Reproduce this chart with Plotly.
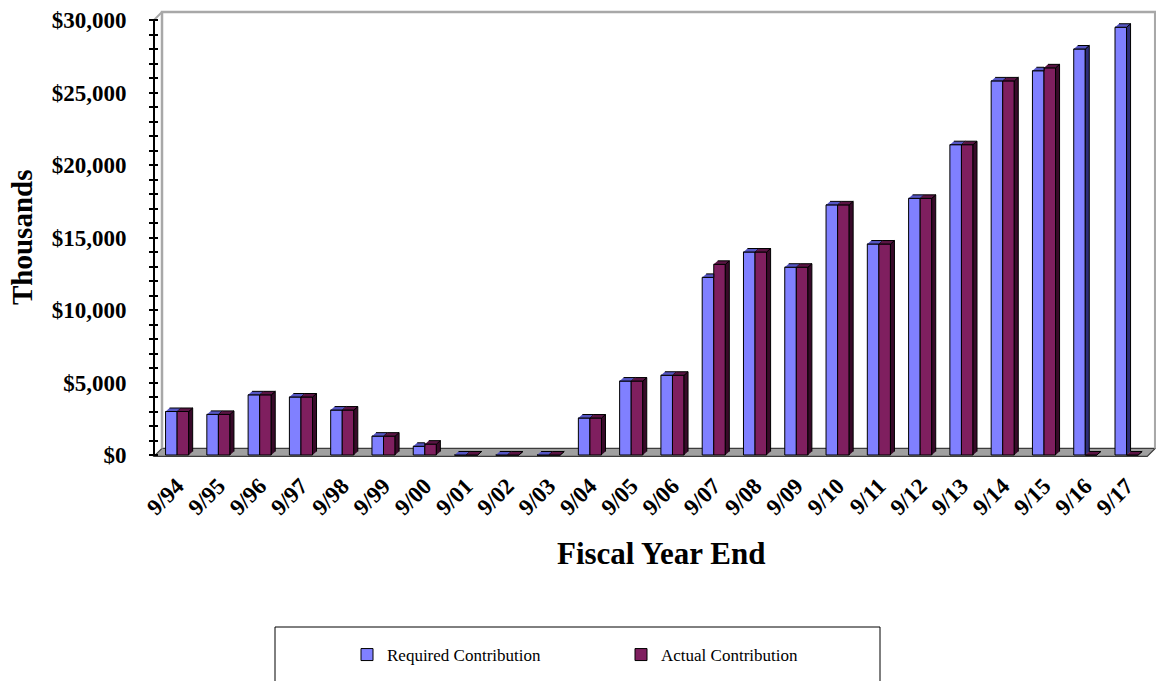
import plotly.graph_objects as go

# ---------------- data ----------------
categories = ['9/94', '9/95', '9/96', '9/97', '9/98', '9/99', '9/00', '9/01', '9/02', '9/03',
              '9/04', '9/05', '9/06', '9/07', '9/08', '9/09', '9/10', '9/11', '9/12', '9/13',
              '9/14', '9/15', '9/16', '9/17']
required = [3000, 2800, 4150, 4000, 3100, 1300, 600, 0, 0, 0,
            2550, 5100, 5500, 12250, 14000, 12950, 17250, 14550, 17700, 21400,
            25800, 26500, 28000, 29500]
actual = [3000, 2800, 4150, 4000, 3100, 1300, 750, 0, 0, 0,
          2550, 5100, 5500, 13150, 14000, 12950, 17250, 14550, 17700, 21400,
          25800, 26700, 0, 0]
y_tickvals = [0, 5000, 10000, 15000, 20000, 25000, 30000]
y_ticktext = ['$0', '$5,000', '$10,000', '$15,000', '$20,000', '$25,000', '$30,000']

# ---------------- layout constants ----------------
W, H = 1156, 681
M_L, M_R, M_T, M_B = 150, 0, 8, 219
PLOT_W = W - M_L - M_R
PLOT_H = H - M_T - M_B
X_PX = 41.28            # px per category
Y_PX = 0.0145           # px per unit
X_LEFT = -0.56          # front-left corner of floor / axis line
X_RIGHT = 23.5
XA = X_LEFT - 4 / X_PX
XB = XA + PLOT_W / X_PX
Y_ZERO_PX = 455
YA = -(M_T + PLOT_H - Y_ZERO_PX) / Y_PX
YB = YA + PLOT_H / Y_PX
Y_MAX = 30000

BAR_W = 0.28
BAR_DX = 4 / X_PX
BAR_DY = 3.5 / Y_PX
FLOOR_DX = 8 / X_PX
FLOOR_DY = 8 / Y_PX
FLOOR_FRONT = -100

REQ_FRONT, REQ_TOP, REQ_SIDE = '#8080FF', '#5656C4', '#2E2E78'
ACT_FRONT, ACT_TOP, ACT_SIDE = '#7F1F5F', '#5A1444', '#380A29'
FONT = 'Liberation Serif, Times New Roman, serif'


def px_x(px):
    return (px - M_L) / PLOT_W


def px_y(py):
    return (M_T + PLOT_H - py) / PLOT_H


idx = list(range(len(categories)))

fig = go.Figure()
fig.add_bar(x=idx, y=required, name='Required Contribution',
            marker=dict(color=REQ_FRONT, line=dict(color='black', width=1)))
fig.add_bar(x=idx, y=actual, name='Actual Contribution',
            marker=dict(color=ACT_FRONT, line=dict(color='black', width=1)))

# 3D faces computed from the data values
req_side_x, req_side_y, req_top_x, req_top_y = [], [], [], []
act_side_x, act_side_y, act_top_x, act_top_y = [], [], [], []
for i, v, a in zip(idx, required, actual):
    xl = i - BAR_W
    xr = i
    if a > v:
        req_top_x += [xl, xr, xr, xl + BAR_DX, None]
    else:
        req_top_x += [xl, xr, xr + BAR_DX, xl + BAR_DX, None]
    req_top_y += [v, v, v + BAR_DY, v + BAR_DY, None]
    if a < v:
        b = max(a, 0)
        req_side_x += [xr, xr, xr + BAR_DX, xr + BAR_DX, None]
        req_side_y += [b, v, v + BAR_DY, b + BAR_DY, None]
    axl, axr = i, i + BAR_W
    act_top_x += [axl, axr, axr + BAR_DX, axl + BAR_DX, None]
    act_top_y += [a, a, a + BAR_DY, a + BAR_DY, None]
    act_side_x += [axr, axr, axr + BAR_DX, axr + BAR_DX, None]
    act_side_y += [0, a, a + BAR_DY, BAR_DY, None]

for xs, ys, col in [(req_side_x, req_side_y, REQ_SIDE), (req_top_x, req_top_y, REQ_TOP),
                    (act_side_x, act_side_y, ACT_SIDE), (act_top_x, act_top_y, ACT_TOP)]:
    fig.add_trace(go.Scatter(x=xs, y=ys, mode='lines', fill='toself', fillcolor=col,
                             line=dict(color='black', width=1), hoverinfo='skip',
                             showlegend=False))

shapes = []
shapes.append(dict(type='path', xref='x', yref='y', layer='below',
                   path=f'M {X_LEFT},{FLOOR_FRONT} L {X_RIGHT},{FLOOR_FRONT} '
                        f'L {X_RIGHT + FLOOR_DX},{FLOOR_FRONT + FLOOR_DY} '
                        f'L {X_LEFT + FLOOR_DX},{FLOOR_FRONT + FLOOR_DY} Z',
                   fillcolor='#A0A0A0', line=dict(color='#3C3C3C', width=1.2)))
wall_col = '#A8A8A8'
shapes.append(dict(type='path', xref='x', yref='y', layer='below',
                   path=f'M {X_LEFT + FLOOR_DX},{FLOOR_FRONT + FLOOR_DY} '
                        f'L {X_LEFT + FLOOR_DX},{Y_MAX + FLOOR_DY} '
                        f'L {X_RIGHT + FLOOR_DX},{Y_MAX + FLOOR_DY} '
                        f'L {X_RIGHT + FLOOR_DX},{FLOOR_FRONT + FLOOR_DY}',
                   line=dict(color=wall_col, width=2.5)))
shapes.append(dict(type='line', xref='x', yref='y', layer='below',
                   x0=X_LEFT, y0=Y_MAX, x1=X_LEFT + FLOOR_DX, y1=Y_MAX + FLOOR_DY,
                   line=dict(color=wall_col, width=2)))
shapes.append(dict(type='line', xref='x', yref='y', x0=X_LEFT, y0=0, x1=X_LEFT, y1=Y_MAX,
                   line=dict(color='black', width=2)))
shapes.append(dict(type='rect', xref='paper', yref='paper',
                   x0=px_x(275), x1=px_x(880), y0=px_y(627), y1=px_y(700),
                   line=dict(color='black', width=1), fillcolor='rgba(0,0,0,0)'))

annotations = [
    dict(text='Fiscal Year End', xref='paper', yref='paper', x=px_x(661), y=px_y(553),
         xanchor='center', yanchor='middle', showarrow=False,
         font=dict(family=FONT, size=31, color='black', weight='bold')),
    dict(text='Thousands', xref='paper', yref='paper', x=px_x(22), y=px_y(238),
         xanchor='center', yanchor='middle', showarrow=False, textangle=-90,
         font=dict(family=FONT, size=29, color='black', weight='bold')),
]

fig.update_layout(
    width=W, height=H,
    margin=dict(l=M_L, r=M_R, t=M_T, b=M_B, pad=0),
    paper_bgcolor='white', plot_bgcolor='white',
    barmode='group', bargap=0.44, bargroupgap=0,
    shapes=shapes, annotations=annotations,
    showlegend=True,
    legend=dict(orientation='h', x=px_x(347), y=px_y(655), xanchor='left', yanchor='middle',
                entrywidth=229, bgcolor='rgba(0,0,0,0)', borderwidth=0,
                font=dict(family=FONT, size=17, color='black')),
    xaxis=dict(range=[XA, XB], tickvals=idx, ticktext=categories, tickangle=-45,
               showgrid=False, zeroline=False, showline=False, ticks='',
               ticklabelstandoff=5,
               tickfont=dict(family=FONT, size=23, color='black', weight='bold')),
    yaxis=dict(range=[YA, YB], tickvals=y_tickvals, ticktext=y_ticktext,
               anchor='free', position=px_x(158), side='left',
               ticks='outside', ticklen=9, tickwidth=1.5, tickcolor='black',
               minor=dict(dtick=1000, tick0=0, ticks='outside', ticklen=9, tickwidth=1.5,
                          tickcolor='black', showgrid=False),
               showgrid=False, zeroline=False, showline=False,
               ticklabelstandoff=18,
               tickfont=dict(family=FONT, size=23, color='black', weight='bold')),
)

fig.write_html('out.html')
